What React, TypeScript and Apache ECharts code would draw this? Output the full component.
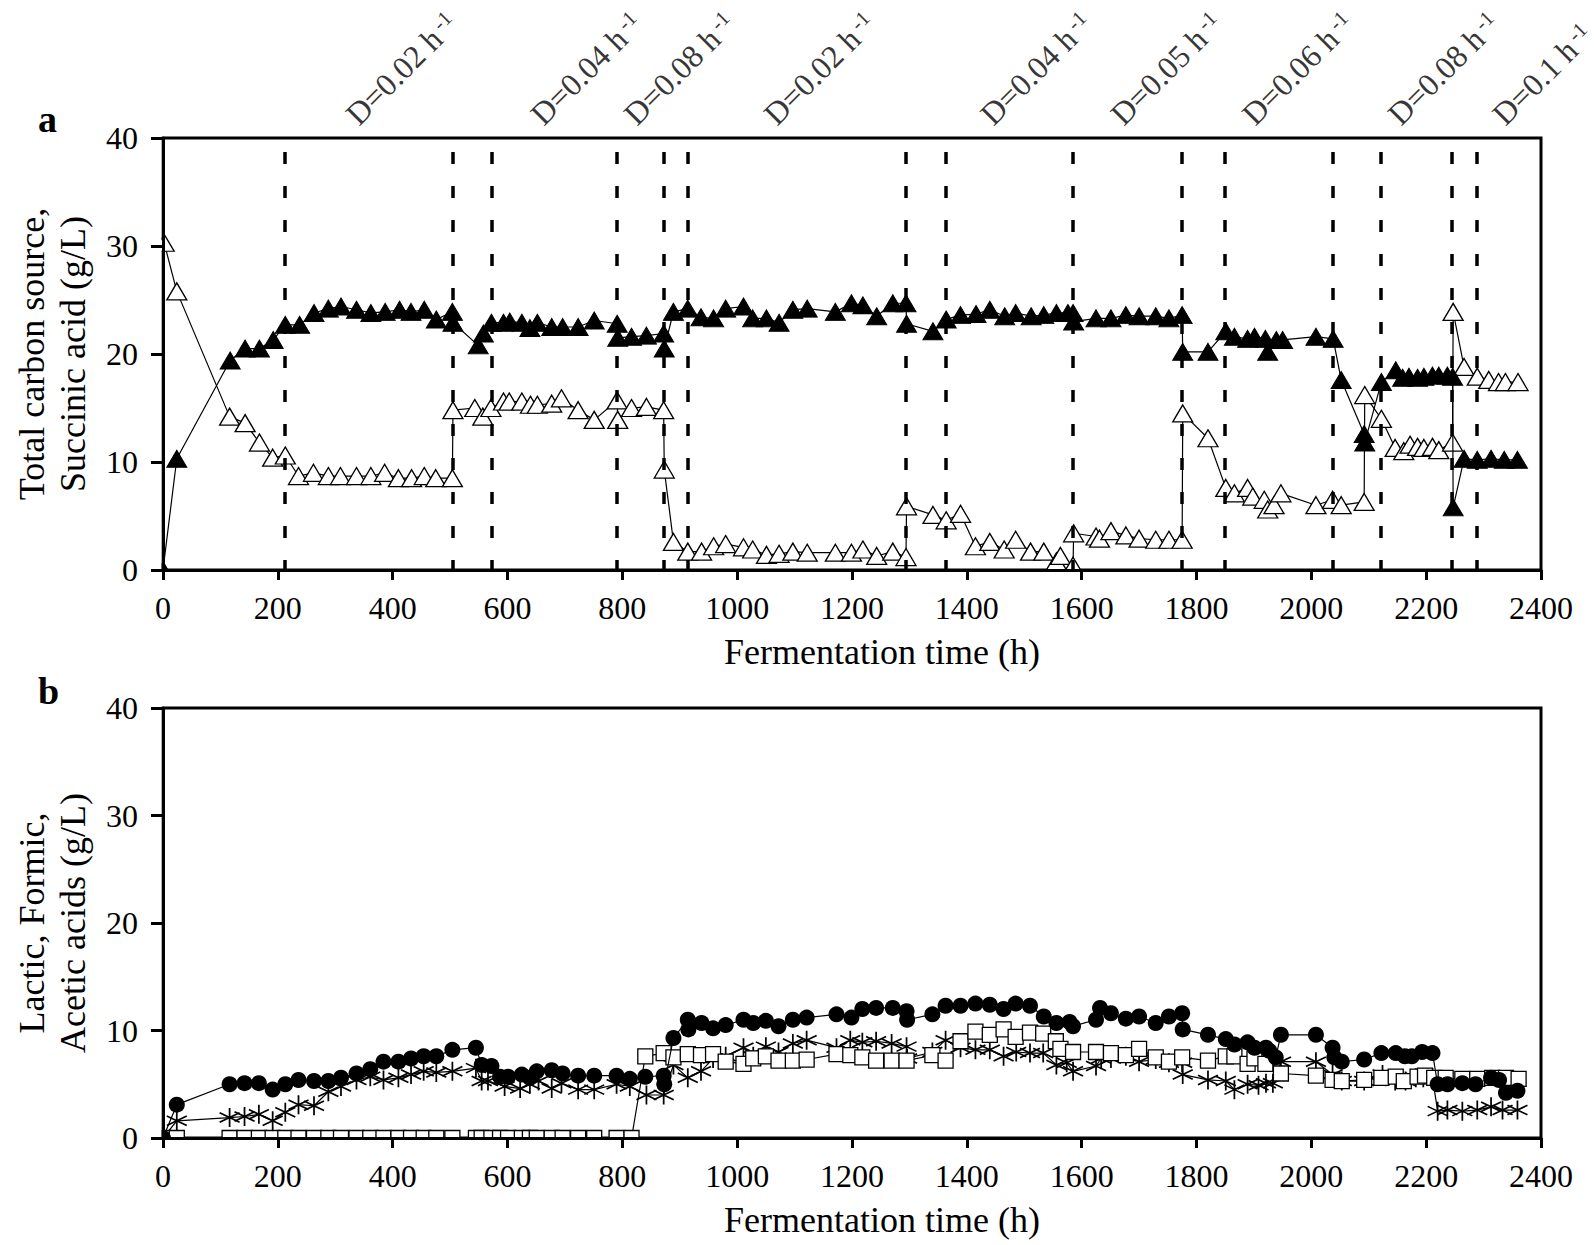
import React, { useEffect, useRef } from "react";
import * as echarts from "echarts";

const FONT = "'Liberation Serif', 'Times New Roman', serif";

// ---------- Panel a ----------
const succinicHours = [0, 24, 117, 143, 168, 192, 213, 238, 263, 288, 310, 337, 362, 387, 412, 432, 455, 476, 504, 505, 549, 558, 572, 593, 604, 625, 639, 652, 677, 696, 723, 751, 791, 792, 816, 842, 872, 873, 889, 914, 937, 959, 980, 1011, 1027, 1051, 1073, 1097, 1122, 1171, 1199, 1219, 1243, 1271, 1294, 1295, 1341, 1364, 1389, 1416, 1440, 1466, 1485, 1512, 1534, 1556, 1576, 1585, 1586, 1625, 1651, 1677, 1700, 1729, 1752, 1775, 1776, 1820, 1851, 1866, 1889, 1901, 1920, 1924, 1939, 1950, 2008, 2038, 2052, 2092, 2093, 2122, 2147, 2159, 2170, 2185, 2196, 2211, 2222, 2237, 2246, 2247, 2266, 2289, 2313, 2336, 2359];
const succinicValues = [0, 10.3, 19.4, 20.5, 20.5, 21.3, 22.7, 22.7, 23.8, 24.2, 24.4, 24.1, 23.8, 23.9, 24.1, 23.9, 24.1, 23.2, 23.9, 22.9, 20.8, 21.9, 22.9, 22.9, 23.0, 22.9, 22.4, 22.9, 22.5, 22.5, 22.5, 23.1, 22.8, 21.5, 21.6, 21.7, 21.9, 20.5, 23.9, 24.2, 23.4, 23.3, 24.2, 24.4, 23.3, 23.3, 22.9, 24.1, 24.2, 23.9, 24.7, 24.5, 23.5, 24.7, 24.7, 22.8, 22.1, 23.2, 23.6, 23.7, 24.1, 23.5, 23.8, 23.5, 23.6, 23.8, 23.8, 23.8, 23.0, 23.3, 23.3, 23.6, 23.5, 23.5, 23.3, 23.6, 20.2, 20.2, 22.1, 21.6, 21.4, 21.6, 21.4, 20.2, 21.3, 21.3, 21.6, 21.4, 17.6, 12.6, 11.8, 17.4, 18.5, 17.8, 17.9, 17.8, 17.9, 18.0, 18.0, 18.0, 17.9, 5.8, 10.3, 10.2, 10.3, 10.2, 10.2];

const carbonHours = [2, 24, 116, 143, 168, 191, 213, 236, 262, 288, 309, 337, 362, 386, 410, 433, 455, 475, 504, 505, 543, 557, 571, 593, 603, 625, 640, 652, 677, 694, 723, 751, 791, 792, 816, 842, 872, 873, 889, 914, 938, 959, 980, 1011, 1027, 1051, 1073, 1097, 1122, 1171, 1199, 1219, 1243, 1271, 1294, 1295, 1341, 1364, 1389, 1415, 1440, 1465, 1485, 1511, 1534, 1556, 1563, 1585, 1586, 1625, 1631, 1651, 1677, 1700, 1729, 1752, 1775, 1776, 1820, 1851, 1866, 1889, 1898, 1918, 1924, 1935, 1947, 2008, 2037, 2052, 2092, 2093, 2122, 2146, 2161, 2172, 2185, 2196, 2211, 2222, 2246, 2247, 2266, 2289, 2309, 2326, 2338, 2360];
const carbonValues = [30.3, 25.8, 14.2, 13.6, 11.8, 10.4, 10.6, 8.7, 9.0, 8.7, 8.7, 8.7, 8.7, 9.0, 8.5, 8.5, 8.7, 8.5, 8.5, 14.8, 15.0, 14.2, 15.0, 15.6, 15.6, 15.6, 15.3, 15.3, 15.4, 15.9, 14.8, 13.9, 15.7, 13.9, 15.0, 15.1, 14.8, 9.3, 2.6, 1.7, 1.7, 2.2, 2.4, 2.1, 1.9, 1.4, 1.5, 1.7, 1.6, 1.6, 1.6, 1.9, 1.3, 1.7, 1.2, 5.9, 5.1, 4.6, 5.2, 2.2, 2.6, 1.9, 2.8, 1.7, 1.7, 0.8, 1.3, 0.4, 3.4, 3.1, 2.9, 3.6, 3.2, 2.9, 2.8, 2.8, 2.8, 14.5, 12.2, 7.6, 7.1, 7.6, 6.8, 6.5, 5.6, 6.0, 7.1, 6.0, 6.5, 6.0, 6.3, 16.2, 14.0, 11.3, 11.0, 11.6, 11.4, 11.3, 11.4, 11.1, 11.8, 23.9, 18.8, 17.9, 17.6, 17.4, 17.4, 17.4];

const dilutionChangeHours = [212, 504, 572, 791, 872, 914, 1293, 1364, 1585, 1775, 1850, 2038, 2121, 2245, 2288];
const dilutionLabelHours = [317, 639, 801, 1045, 1422, 1649, 1878, 2132, 2314];
const dilutionLabels = ["D=0.02 h", "D=0.04 h", "D=0.08 h", "D=0.02 h", "D=0.04 h", "D=0.05 h", "D=0.06 h", "D=0.08 h", "D=0.1 h"];

// ---------- Panel b ----------
const lacticHours = [0, 24, 116, 142, 167, 191, 213, 236, 263, 288, 310, 337, 361, 384, 410, 432, 454, 476, 504, 545, 555, 572, 587, 601, 625, 639, 651, 677, 696, 723, 751, 790, 813, 840, 872, 873, 889, 914, 915, 938, 958, 980, 1011, 1028, 1050, 1072, 1097, 1121, 1173, 1199, 1218, 1242, 1271, 1295, 1296, 1340, 1363, 1389, 1415, 1440, 1464, 1485, 1510, 1534, 1556, 1579, 1585, 1625, 1632, 1651, 1677, 1700, 1729, 1752, 1775, 1776, 1820, 1851, 1866, 1889, 1901, 1921, 1927, 1938, 1947, 2008, 2037, 2040, 2053, 2092, 2122, 2147, 2163, 2175, 2193, 2211, 2220, 2237, 2263, 2286, 2313, 2327, 2339, 2359];
const lacticValues = [0, 3.1, 5.0, 5.1, 5.1, 4.5, 5.0, 5.4, 5.3, 5.3, 5.6, 6.0, 6.4, 7.1, 7.1, 7.4, 7.6, 7.6, 8.2, 8.4, 6.8, 6.7, 5.7, 5.7, 5.9, 5.6, 6.2, 6.3, 6.0, 5.8, 5.8, 5.8, 5.5, 5.7, 5.8, 5.0, 9.3, 11.0, 10.1, 10.7, 10.2, 10.5, 11.0, 10.7, 10.9, 10.4, 11.0, 11.2, 11.5, 11.2, 12.0, 12.1, 12.1, 11.8, 11.0, 11.5, 12.3, 12.3, 12.5, 12.4, 12.0, 12.5, 12.3, 11.3, 10.7, 10.8, 10.4, 11.0, 12.1, 11.6, 11.1, 11.3, 10.7, 11.3, 11.6, 10.1, 9.6, 9.2, 8.7, 8.9, 8.4, 8.4, 8.1, 7.5, 9.6, 9.6, 8.4, 7.5, 7.1, 7.3, 7.9, 7.9, 7.6, 7.6, 8.0, 7.9, 5.0, 5.0, 5.1, 5.0, 5.6, 5.4, 4.2, 4.4];

const formicHours = [0, 24, 116, 142, 167, 191, 213, 236, 263, 288, 310, 337, 361, 384, 410, 432, 454, 476, 504, 545, 555, 572, 587, 601, 625, 639, 651, 677, 696, 723, 751, 790, 816, 840, 872, 889, 914, 937, 958, 980, 1011, 1028, 1050, 1072, 1097, 1121, 1173, 1197, 1218, 1242, 1269, 1295, 1340, 1363, 1389, 1415, 1440, 1464, 1485, 1510, 1533, 1555, 1563, 1585, 1625, 1651, 1677, 1700, 1729, 1752, 1775, 1820, 1851, 1866, 1889, 1901, 1920, 1947, 2008, 2037, 2053, 2092, 2122, 2147, 2161, 2185, 2198, 2214, 2234, 2263, 2289, 2315, 2339, 2361];
const formicValues = [0, 0, 0, 0, 0, 0, 0, 0, 0, 0, 0, 0, 0, 0, 0, 0, 0, 0, 0, 0, 0, 0, 0, 0, 0, 0, 0, 0, 0, 0, 0, 0, 0, 7.6, 7.9, 7.5, 7.8, 7.7, 7.8, 7.1, 6.9, 7.4, 7.6, 7.2, 7.2, 7.3, 7.8, 7.7, 7.5, 7.2, 7.2, 7.2, 7.7, 7.2, 9.0, 9.9, 9.6, 10.1, 9.4, 9.8, 9.7, 9.0, 8.3, 8.0, 8.0, 7.9, 7.7, 8.3, 7.5, 7.1, 7.5, 7.2, 7.6, 7.6, 6.9, 7.4, 6.9, 6.0, 5.8, 5.4, 5.3, 5.4, 5.6, 5.7, 5.3, 5.7, 5.8, 5.6, 5.6, 5.5, 5.5, 5.6, 5.6, 5.5];

const aceticHours = [0, 24, 116, 142, 167, 191, 213, 236, 263, 288, 310, 337, 361, 384, 410, 432, 454, 476, 504, 545, 555, 566, 595, 622, 639, 654, 677, 694, 723, 751, 790, 813, 842, 872, 889, 914, 937, 958, 980, 1011, 1028, 1050, 1072, 1097, 1121, 1173, 1197, 1218, 1242, 1269, 1295, 1296, 1340, 1363, 1389, 1415, 1440, 1464, 1486, 1510, 1533, 1556, 1574, 1585, 1625, 1634, 1651, 1677, 1700, 1729, 1752, 1775, 1776, 1820, 1851, 1866, 1889, 1908, 1921, 1933, 1947, 2008, 2037, 2053, 2092, 2124, 2146, 2164, 2182, 2195, 2211, 2220, 2237, 2263, 2289, 2313, 2333, 2359];
const aceticValues = [0, 1.6, 1.9, 2.0, 2.2, 1.6, 2.4, 3.1, 3.0, 4.3, 4.8, 5.4, 5.7, 5.4, 5.6, 5.9, 6.2, 6.1, 6.2, 6.5, 5.3, 5.3, 4.8, 4.6, 5.0, 5.3, 4.6, 5.1, 4.5, 4.5, 5.0, 4.8, 4.0, 4.0, 6.8, 5.6, 6.2, 7.4, 7.6, 8.4, 7.6, 8.5, 8.0, 8.8, 9.1, 8.4, 9.1, 8.9, 9.0, 8.8, 8.5, 7.4, 8.0, 9.1, 8.4, 8.2, 8.2, 7.6, 8.0, 7.9, 7.9, 6.8, 7.0, 6.2, 6.7, 7.4, 7.4, 7.6, 7.1, 7.3, 7.0, 7.0, 5.9, 5.4, 5.3, 4.5, 5.0, 4.9, 5.1, 5.1, 7.1, 7.1, 5.9, 5.3, 5.3, 5.9, 5.3, 5.3, 5.6, 5.6, 5.6, 2.5, 2.6, 2.5, 2.6, 2.9, 2.6, 2.6];

const xTickLabels = ["0", "200", "400", "600", "800", "1000", "1200", "1400", "1600", "1800", "2000", "2200", "2400"];
const yTickLabels = ["0", "10", "20", "30", "40"];

const pairs = (h: number[], v: number[]) => h.map((x, i) => [x, v[i]]);

const GRID_LEFT = 163;
const GRID_WIDTH = 1378;
const DASH_TOP = 38.7;
const ASTERISK = "path://M10 0 L10 20 M1.34 5 L18.66 15 M1.34 15 L18.66 5";

function xAxis(gridIndex: number) {
  return {
    type: "value",
    gridIndex,
    min: 0,
    max: 2400,
    interval: 200,
    z: 6,
    axisLine: { show: true, lineStyle: { color: "#000", width: 3 } },
    axisTick: { show: true, inside: false, length: 10, lineStyle: { color: "#000", width: 3 } },
    axisLabel: {
      fontSize: 32,
      fontFamily: FONT,
      color: "#000",
      margin: 22,
      formatter: (v: number) => xTickLabels[Math.round(v / 200)] ?? String(v),
    },
    splitLine: { show: false },
    name: "Fermentation time (h)",
    nameLocation: "middle",
    nameGap: 64,
    nameTextStyle: { fontSize: 36, fontFamily: FONT, color: "#000", padding: [0, 0, 0, 60] },
  };
}

function yAxis(gridIndex: number, name: string) {
  return {
    type: "value",
    gridIndex,
    min: 0,
    max: 40,
    interval: 10,
    z: 6,
    axisLine: { show: true, lineStyle: { color: "#000", width: 3 } },
    axisTick: { show: true, inside: false, length: 12, lineStyle: { color: "#000", width: 3 } },
    axisLabel: {
      fontSize: 32,
      fontFamily: FONT,
      color: "#000",
      margin: 25,
      formatter: (v: number) => yTickLabels[Math.round(v / 10)] ?? String(v),
    },
    splitLine: { show: false },
    name,
    nameLocation: "middle",
    nameGap: 70,
    nameRotate: 90,
    nameTextStyle: { fontSize: 36, fontFamily: FONT, color: "#000", lineHeight: 41 },
  };
}

const lineStyle = { color: "#000", width: 1.2 };

const option = {
  animation: false,
  backgroundColor: "#fff",
  grid: [
    { left: GRID_LEFT, top: 138, width: GRID_WIDTH, height: 432, show: true, borderColor: "#000", borderWidth: 3, backgroundColor: "transparent" },
    { left: GRID_LEFT, top: 708, width: GRID_WIDTH, height: 430, show: true, borderColor: "#000", borderWidth: 3, backgroundColor: "transparent" },
  ],
  xAxis: [xAxis(0), xAxis(1)],
  yAxis: [yAxis(0, "Total carbon source,\nSuccinic acid (g/L)"), yAxis(1, "Lactic, Formic,\nAcetic acids (g/L)")],
  graphic: [
    { type: "rect", z: 4, shape: { x: 0, y: 110, width: 161.4, height: 490 }, style: { fill: "#fff" } },
    { type: "rect", z: 4, shape: { x: 140, y: 571.6, width: 1420, height: 20 }, style: { fill: "#fff" } },
    { type: "rect", z: 4, shape: { x: 0, y: 690, width: 161.4, height: 470 }, style: { fill: "#fff" } },
    { type: "rect", z: 4, shape: { x: 140, y: 1139.6, width: 1420, height: 20 }, style: { fill: "#fff" } },
    { type: "text", z: 8, left: 38, top: 100, style: { text: "a", fontSize: 38, fontWeight: "bold", fontFamily: FONT, fill: "#000" } },
    { type: "text", z: 8, left: 38, top: 672, style: { text: "b", fontSize: 38, fontWeight: "bold", fontFamily: FONT, fill: "#000" } },
  ],
  series: [
    {
      type: "line",
      xAxisIndex: 0,
      yAxisIndex: 0,
      data: [],
      z: 1,
      silent: true,
      markLine: {
        silent: true,
        symbol: ["none", "none"],
        label: { show: false },
        lineStyle: { color: "#000", width: 3.5, type: [12, 22] },
        data: dilutionChangeHours.map((h) => [{ coord: [h, DASH_TOP] }, { coord: [h, 0] }]),
      },
    },
    {
      type: "line",
      name: "Total carbon source",
      xAxisIndex: 0,
      yAxisIndex: 0,
      data: pairs(carbonHours, carbonValues),
      symbol: "triangle",
      symbolSize: [20, 17],
      showAllSymbol: true,
      lineStyle,
      itemStyle: { color: "#fff", borderColor: "#000", borderWidth: 1.3 },
      z: 2,
    },
    {
      type: "line",
      name: "Succinic acid",
      xAxisIndex: 0,
      yAxisIndex: 0,
      data: pairs(succinicHours, succinicValues),
      symbol: "triangle",
      symbolSize: [20, 17],
      showAllSymbol: true,
      lineStyle,
      itemStyle: { color: "#000", borderColor: "#000", borderWidth: 1 },
      z: 3,
    },
    {
      type: "scatter",
      xAxisIndex: 0,
      yAxisIndex: 0,
      data: dilutionLabelHours.map((h) => [h, 40]),
      symbolSize: 1,
      itemStyle: { color: "rgba(0,0,0,0)" },
      silent: true,
      clip: false,
      z: 5,
      label: {
        show: true,
        position: [18, -7],
        align: "left",
        verticalAlign: "bottom",
        rotate: 45,
        formatter: (p: any) => `{d|${dilutionLabels[p.dataIndex]}}{s|-1}`,
        rich: {
          d: { fontSize: 32, fontFamily: FONT, color: "#000" },
          s: { fontSize: 21, fontFamily: FONT, color: "#000", verticalAlign: "top", padding: [0, 0, 0, 4] },
        },
      },
    },
    {
      type: "line",
      name: "Acetic",
      xAxisIndex: 1,
      yAxisIndex: 1,
      data: pairs(aceticHours, aceticValues),
      symbol: ASTERISK,
      symbolSize: [20, 19],
      showAllSymbol: true,
      lineStyle,
      itemStyle: { color: "rgba(0,0,0,0)", borderColor: "#000", borderWidth: 1.7 },
      z: 2,
    },
    {
      type: "line",
      name: "Formic",
      xAxisIndex: 1,
      yAxisIndex: 1,
      data: pairs(formicHours, formicValues),
      symbol: "rect",
      symbolSize: 15,
      showAllSymbol: true,
      lineStyle,
      itemStyle: { color: "#fff", borderColor: "#000", borderWidth: 1.3 },
      z: 2,
    },
    {
      type: "line",
      name: "Lactic",
      xAxisIndex: 1,
      yAxisIndex: 1,
      data: pairs(lacticHours, lacticValues),
      symbol: "circle",
      symbolSize: 16,
      showAllSymbol: true,
      lineStyle,
      itemStyle: { color: "#000", borderColor: "#000", borderWidth: 0 },
      z: 3,
    },
  ],
};

export default function App() {
  const ref = useRef<HTMLDivElement>(null);
  useEffect(() => {
    const chart = echarts.init(ref.current!, null, { renderer: "svg" });
    chart.setOption(option as any);
    return () => chart.dispose();
  }, []);
  return (
    <div
      ref={ref}
      style={{ position: "absolute", left: 0, top: 0, width: 1594, height: 1245, background: "#fff" }}
    />
  );
}
